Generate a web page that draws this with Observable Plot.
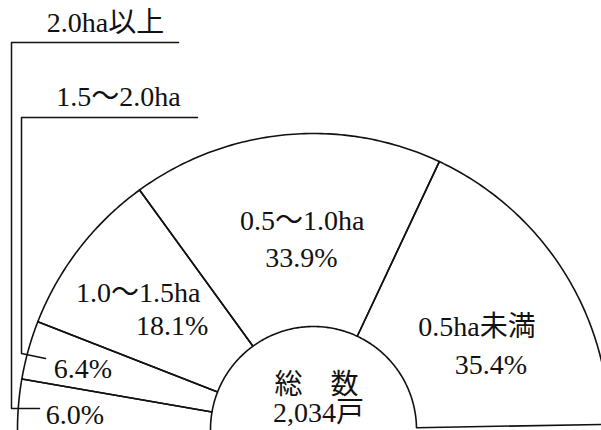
<!DOCTYPE html>
<html><head><meta charset="utf-8">
<script src="https://cdn.jsdelivr.net/npm/d3@7"></script>
<script src="https://cdn.jsdelivr.net/npm/@observablehq/plot@0.6"></script>
<style>
html,body{margin:0;padding:0;background:#fff;}
#chart svg{display:block;}
#chart svg text{font-family:"Liberation Serif","Noto Sans CJK JP",serif;}
</style></head><body><div id="chart"></div>
<script>
// ---- data ----
const categories = ["2.0ha以上", "1.5～2.0ha", "1.0～1.5ha", "0.5～1.0ha", "0.5ha未満"];
const shares = [6.0, 6.4, 18.1, 33.9, 35.4];
const centerTitle = "総　数";
const totalFarms = "2,034戸";

// ---- layout (pixels) ----
const W = 601, H = 430;
const CX = 313, CY = 429, R_OUT = 296, R_IN = 103;
const START_DEG = -91;       // clockwise from 12 o'clock; half donut spans 180°
const FONT = "Liberation Serif, Noto Sans CJK JP, serif";

const total = d3.sum(shares);
let acc = START_DEG;
const slices = categories.map((c, i) => {
  const a0 = acc, a1 = acc + shares[i] / total * 180;
  acc = a1;
  return {c, v: shares[i], a0, a1, mid: (a0 + a1) / 2};
});

const rIn = R_IN / R_OUT;
function pol(deg, r) { const t = deg * Math.PI / 180; return {x: r * Math.sin(t), y: r * Math.cos(t)}; }
const px = (p, dx, dy) => ({x: p.x + dx / R_OUT, y: p.y - dy / R_OUT});
const fromPx = (X, Y) => ({x: (X - CX) / R_OUT, y: (CY - Y) / R_OUT});

// slice outlines
const outline = [];
slices.forEach(s => {
  const n = 80;
  for (let k = 0; k <= n; k++) outline.push({...pol(s.a0 + (s.a1 - s.a0) * k / n, 1), c: s.c});
  for (let k = n; k >= 0; k--) outline.push({...pol(s.a0 + (s.a1 - s.a0) * k / n, rIn), c: s.c});
  outline.push({...pol(s.a0, 1), c: s.c});
});

// labels
const nudges = {
  "1.0～1.5ha": {name: [-23, -19], pct: [11, 14]},
  "0.5～1.0ha": {name: [7, -17], pct: [6, 20]},
  "0.5ha未満": {name: [2, 2], pct: [16, 40]}
};
const labels = [];
slices.forEach(s => {
  const pctText = s.v.toFixed(1) + "%";
  if (s.v > 10) {
    const a = pol(s.mid, 0.65), n = nudges[s.c];
    labels.push({...px(a, n.name[0], n.name[1]), t: s.c});
    labels.push({...px(a, n.pct[0], n.pct[1]), t: pctText});
  } else {
    const a = pol(s.mid, 0.805);
    labels.push({...px(a, -1, 4), t: pctText});
  }
});
// headers for small slices + leader lines
const headerPos = {"2.0ha以上": [105, 23], "1.5～2.0ha": [118, 97]};
const leaderPts = {
  "2.0ha以上": [[178, 42], [11, 42], [11, 408], [39, 408]],
  "1.5～2.0ha": [[197, 117], [21, 117], [21, 353], [45, 358]]
};
const leaders = [];
Object.keys(headerPos).forEach(c => {
  labels.push({...fromPx(...headerPos[c]), t: c});
  leaderPts[c].forEach(p => leaders.push({...fromPx(...p), c}));
});
// center
const c0 = pol(0, 0);
labels.push({...px(c0, 3, -44), t: centerTitle});
labels.push({...px(c0, 5, -16), t: totalFarms});

const chart = Plot.plot({
  width: W, height: H, margin: 0,
  x: {domain: [-CX / R_OUT, (W - CX) / R_OUT], axis: null},
  y: {domain: [(CY - H) / R_OUT, CY / R_OUT], axis: null},
  style: {background: "#fff", fontFamily: FONT},
  marks: [
    Plot.line(outline, {x: "x", y: "y", z: "c", stroke: "#111", strokeWidth: 1.6, curve: "linear", strokeLinejoin: "miter"}),
    Plot.line(leaders, {x: "x", y: "y", z: "c", stroke: "#111", strokeWidth: 1.5, curve: "linear"}),
    Plot.text(labels, {x: "x", y: "y", text: "t", fontFamily: FONT, fontSize: 28, fill: "#111", textAnchor: "middle"})
  ]
});
document.getElementById("chart").appendChild(chart);
</script>
</body></html>
